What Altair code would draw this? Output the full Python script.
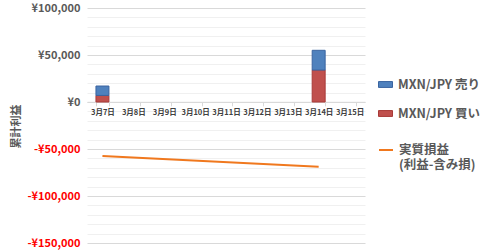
import altair as alt
import pandas as pd

dates = ["3月7日", "3月8日", "3月9日", "3月10日", "3月11日", "3月12日", "3月13日", "3月14日", "3月15日"]
sell = [10000, 0, 0, 0, 0, 0, 0, 21000, 0]   # MXN/JPY 売り
buy = [7000, 0, 0, 0, 0, 0, 0, 34000, 0]     # MXN/JPY 買い
line_dates = ["3月7日", "3月14日"]
line_vals = [-57500, -69000]

S_SELL = "MXN/JPY 売り"
S_BUY = "MXN/JPY 買い"
S_LINE = "実質損益|(利益-含み損)"

rows = []
for d, s, b in zip(dates, sell, buy):
    if b:
        rows.append({"date": d, "series": S_BUY, "value": b, "ord": 0})
    if s:
        rows.append({"date": d, "series": S_SELL, "value": s, "ord": 1})
bars_df = pd.DataFrame(rows)
line_df = pd.DataFrame({"date": line_dates, "value": line_vals, "series": [S_LINE] * len(line_dates)})

FONT = "Noto Sans CJK JP"
GREY = "#595959"

yvals = list(range(-150000, 100001, 10000))

x_scale = alt.Scale(domain=dates, paddingInner=0.58, paddingOuter=0.29)
x_axis = alt.Axis(title=None, offset=-141.2, labelAngle=0, labelFontSize=7.5,
                  labelFont=FONT, labelColor="#404040", labelFontWeight="bold",
                  tickBand="extent", tickColor="#d9d9d9", tickSize=4,
                  domainColor="#d9d9d9", labelPadding=3, grid=False,
                  labelOverlap=False, labelBound=False)

y_scale = alt.Scale(domain=[-150000, 100000], nice=False, zero=False)
y_axis = alt.Axis(title="累計利益", values=yvals, labelOverlap=False, labelBound=False,
                  labelExpr="datum.value % 50000 !== 0 ? '' : (datum.value < 0 ? '-¥' + format(-datum.value, ',') : '¥' + format(datum.value, ','))",
                  labelColor=alt.expr("datum.value < 0 ? '#ff0000' : '#595959'"),
                  gridColor=alt.expr("datum.value % 50000 === 0 ? '#d9d9d9' : '#f0f0f0'"),
                  labelFont=FONT, labelFontSize=11, labelFontWeight="bold",
                  labelPadding=7, ticks=False, domain=False,
                  titleFont=FONT, titleFontSize=11, titleFontWeight="bold",
                  titleColor=GREY, titleX=-66, titleY=118, titleAngle=-90)

bars = alt.Chart(bars_df).mark_bar(strokeWidth=1).encode(
    x=alt.X("date:N", sort=dates, scale=x_scale, axis=x_axis),
    y=alt.Y("sum(value):Q", scale=y_scale, stack="zero", axis=y_axis, title="累計利益"),
    fill=alt.Fill("series:N",
                  scale=alt.Scale(domain=[S_SELL, S_BUY], range=["#4f81bd", "#c0504d"]),
                  legend=alt.Legend(title=None, orient="none", legendX=291, legendY=69,
                                    symbolType="M-1,-0.42H1V0.42H-1Z", symbolSize=196,
                                    symbolStrokeWidth=1, rowPadding=15,
                                    labelFont=FONT, labelFontSize=12.5, labelColor=GREY,
                                    labelFontWeight="bold", labelOffset=5)),
    stroke=alt.Stroke("series:N",
                      scale=alt.Scale(domain=[S_SELL, S_BUY], range=["#3a64a0", "#a83a38"]),
                      legend=None),
    order=alt.Order("ord:Q"),
)

line = alt.Chart(line_df).mark_line(strokeWidth=2).encode(
    x=alt.X("date:N", sort=dates, scale=x_scale, axis=x_axis),
    y=alt.Y("value:Q", scale=y_scale, axis=y_axis, title="累計利益"),
    color=alt.Color("series:N", scale=alt.Scale(domain=[S_LINE], range=["#f0781e"]),
                    legend=alt.Legend(title=None, orient="none", legendX=291, legendY=134,
                                      symbolType="stroke", symbolSize=196, symbolStrokeWidth=2,
                                      labelExpr="split(datum.label, '|')",
                                      labelFont=FONT, labelFontSize=12.5, labelColor=GREY,
                                      labelFontWeight="bold", labelOffset=5, labelBaseline="middle")),
)

chart = alt.layer(bars, line).resolve_scale(color="independent").properties(
    width=278, height=235,
    autosize=alt.AutoSizeParams(type="none"),
    padding={"left": 87, "top": 8, "right": 115, "bottom": 9},
    background="white",
).configure_view(stroke=None)

chart.save("out.html", embed_options={"renderer": "svg", "actions": False})
